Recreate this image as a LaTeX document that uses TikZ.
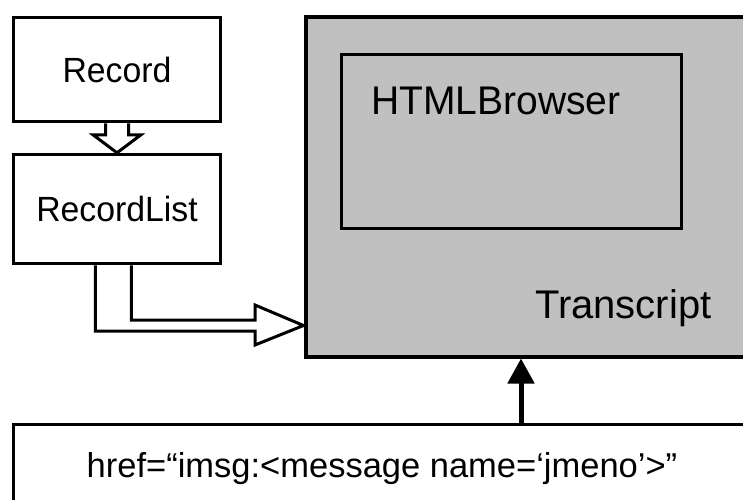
\documentclass[tikz,border=0pt]{standalone}
\usepackage{fontspec}
\setmainfont{Liberation Sans}
\usetikzlibrary{calc,arrows.meta}
\definecolor{panel}{RGB}{192,192,192}
\tikzset{
  box/.style={draw=black, line width=3.5pt, fill=white, inner sep=0pt, rectangle},
  panelbox/.style={draw=black, line width=4pt, fill=panel, inner sep=0pt, rectangle},
  inbox/.style={draw=black, line width=3pt, inner sep=0pt, rectangle},
  hollow/.style={draw=black, line width=3pt, fill=white, line join=miter},
  boxtext/.style={font=\fontsize{35}{40}\selectfont, inner sep=0pt, xscale=0.965},
  linktext/.style={font=\fontsize{34.5}{40}\selectfont, inner sep=0pt},
  bigtext/.style={font=\fontsize{40}{46}\selectfont, inner sep=0pt},
}
\begin{document}
\begin{tikzpicture}[x=1pt, y=-1pt]
  \useasboundingbox (0,0) rectangle (743,499);
  \clip (0,0) rectangle (743,499);

  % class boxes on the left
  \node[box, minimum width=207pt, minimum height=104pt] (record) at (117,69.5) {};
  \node[boxtext, anchor=base] (recordlabel) at (117,82.5) {Record};
  \node[box, minimum width=207pt, minimum height=109pt] (recordlist) at (117,209) {};
  \node[boxtext, anchor=base] (recordlistlabel) at (117,221) {RecordList};

  % transcript panel with the embedded browser
  \node[panelbox, minimum width=470pt, minimum height=339.5pt] (transcript) at (540.5,186.75) {};
  \node[inbox, minimum width=339.5pt, minimum height=173.5pt] (browser) at (511.25,141.25) {};
  \node[bigtext, anchor=base west, xscale=0.975] (browserlabel) at (371,114) {HTMLBrowser};
  \node[bigtext, anchor=base west] (transcriptlabel) at (535,318) {Transcript};

  % link box at the bottom
  \node[box, minimum width=760pt, minimum height=120pt] (hrefbox) at (393.5,484.5) {};
  \node[linktext, anchor=base] (hreflabel) at (382,477) {href=“imsg:<message name=‘jmeno’>”};

  % hollow arrow Record -> RecordList
  \draw[hollow]
    ($(record.south)+(-11.5,0)$) -- ($(record.south)+(-11.5,11.5)$)
    -- ($(record.south)+(-24,11.5)$) -- (recordlist.north)
    -- ($(record.south)+(24,11.5)$) -- ($(record.south)+(11.5,11.5)$)
    -- ($(record.south)+(11.5,0)$);

  % hollow elbow arrow RecordList -> Transcript
  \coordinate (tip) at ($(transcript.south west)+(0,-33)$);
  \draw[hollow]
    ($(recordlist.south west)+(83.5,0)$) |- ($(tip)+(-48.5,5.5)$)
    -- ($(tip)+(-48.5,19.5)$) -- (tip) -- ($(tip)+(-48.5,-20.5)$)
    -- ($(tip)+(-48.5,-5.5)$) -| ($(recordlist.south west)+(119.5,0)$);

  % solid arrow from the link to the transcript
  \coordinate (linkfoot) at (521,424.5);
  \draw[line width=5pt, -{Triangle[width=26pt,length=25pt]}]
    (linkfoot) -- (linkfoot |- transcript.south);
\end{tikzpicture}
\end{document}
